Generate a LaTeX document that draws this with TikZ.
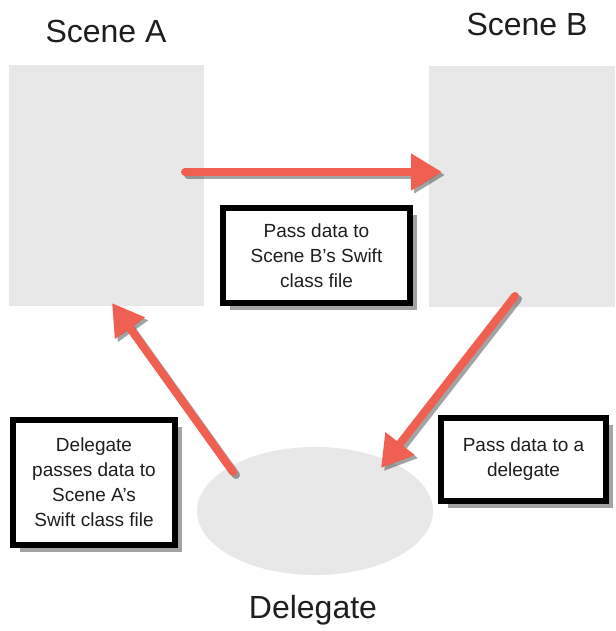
\documentclass[tikz,border=0pt]{standalone}
\usepackage{fontspec}
\setmainfont{Liberation Sans}
\usetikzlibrary{arrows.meta,shadows,shapes.geometric}
\definecolor{arrowred}{RGB}{240,96,82}
\definecolor{panelgrey}{RGB}{232,232,232}
\definecolor{inkgrey}{RGB}{30,30,30}
\begin{document}
\begin{tikzpicture}[x=1pt,y=-1pt,
  panelbox/.style={fill=panelgrey, draw=none, inner sep=0pt},
  title/.style={font=\fontsize{32}{38}\selectfont, text=inkgrey, inner sep=0pt},
  notebox/.style={draw=black, line width=6pt, fill=white, inner sep=0pt,
    align=center, text=inkgrey, font=\fontsize{19}{25}\selectfont,
    drop shadow={shadow xshift=6.5pt, shadow yshift=-6.5pt, opacity=0.45, fill=black!80}},
  flow/.style={draw=arrowred, line width=8pt, line cap=round,
    -{Triangle[length=31pt,width=35pt]}},
  flowshadow/.style={draw=black!80, opacity=0.45, line width=8pt, line cap=round,
    -{Triangle[length=31pt,width=35pt]}}
]
\useasboundingbox (0,0) rectangle (615,631);

% scene panels and delegate
\node[panelbox, minimum width=195pt, minimum height=241pt] (sceneA) at (106.5,185.5) {};
\node[panelbox, minimum width=186pt, minimum height=241pt] (sceneB) at (522,186.5) {};
\node[panelbox, ellipse, minimum width=236pt, minimum height=128pt] (deleg) at (315,511) {};

% titles
\node[title] (labA) at (106,31) {Scene A};
\node[title] (labB) at (527,24) {Scene B};
\node[title] (labD) at (313,610) {Delegate};

% arrow end points
\coordinate (a1s) at (185,172);
\coordinate (a1e) at (442,172);
\coordinate (a2s) at (515,296);
\coordinate (a2e) at (381,468);
\coordinate (a3s) at (233,472);
\coordinate (a3e) at (112,303);

% arrow shadows
\draw[flowshadow] ([shift={(3,3)}]a1s) -- ([shift={(3,3)}]a1e);
\draw[flowshadow] ([shift={(3,3)}]a2s) -- ([shift={(3,3)}]a2e);
\draw[flowshadow] ([shift={(3,3)}]a3s) -- ([shift={(3,3)}]a3e);
% arrows
\draw[flow] (a1s) -- (a1e);
\draw[flow] (a2s) -- (a2e);
\draw[flow] (a3s) -- (a3e);

% notes
\node[notebox, minimum width=187pt, minimum height=95pt] (noteB) at (316.5,255.5)
  {Pass data to\\Scene B's Swift\\class file};
\node[notebox, minimum width=165pt, minimum height=83pt] (noteD) at (523.5,459.5)
  {Pass data to a\\delegate};
\node[notebox, minimum width=162pt, minimum height=125pt] (noteA) at (94,482.5)
  {Delegate\\passes data to\\Scene A's\\Swift class file};
\end{tikzpicture}
\end{document}
